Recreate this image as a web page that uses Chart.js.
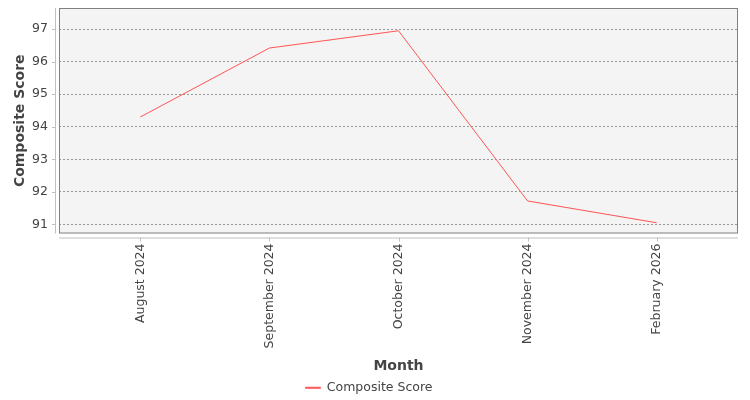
<!DOCTYPE html>
<html>
<head>
<meta charset="utf-8">
<script src="https://cdn.jsdelivr.net/npm/chart.js@4/dist/chart.umd.min.js"></script>
<style>
  html, body { margin: 0; padding: 0; background: #fff; }
  #wrap { width: 750px; height: 400px; }
</style>
</head>
<body>
<div id="wrap"><canvas id="chart"></canvas></div>
<script>
const months = ['August 2024', 'September 2024', 'October 2024', 'November 2024', 'February 2026']
const scores = [94.3, 96.42, 96.95, 91.72, 91.05]
const yTicks = [91, 92, 93, 94, 95, 96, 97]

const textColor = '#444'

// plot background, frame, detached axis lines and tick marks (JFreeChart look)
const plotFrame = {
  id: 'plotFrame',
  beforeDraw(chart) {
    const { ctx, chartArea: a } = chart
    ctx.save()
    ctx.fillStyle = '#fff'
    ctx.fillRect(0, 0, chart.width, chart.height)
    ctx.fillStyle = '#f4f4f4'
    ctx.fillRect(a.left, a.top, a.right - a.left, a.bottom - a.top)
    ctx.restore()
  },
  afterDatasetsDraw(chart) {
    const { ctx, chartArea: a, scales } = chart
    ctx.save()
    ctx.strokeStyle = '#808080'
    ctx.lineWidth = 1
    ctx.strokeRect(a.left + 0.5, a.top + 0.5, a.right - a.left - 1, a.bottom - a.top - 1)

    ctx.strokeStyle = '#c0c0c0'
    ctx.beginPath()
    // y axis line, a little left of the plot
    ctx.moveTo(a.left - 3.5, a.top)
    ctx.lineTo(a.left - 3.5, a.bottom)
    yTicks.forEach((v) => {
      const y = Math.round(scales.y.getPixelForValue(v)) + 0.5
      ctx.moveTo(a.left - 7, y)
      ctx.lineTo(a.left - 3, y)
    })
    // x axis line, a little below the plot
    ctx.moveTo(a.left, a.bottom + 4.5)
    ctx.lineTo(a.right, a.bottom + 4.5)
    months.forEach((m, i) => {
      const x = Math.round(scales.x.getPixelForValue(i)) + 0.5
      ctx.moveTo(x, a.bottom + 4)
      ctx.lineTo(x, a.bottom + 8)
    })
    ctx.stroke()
    ctx.restore()
  },
}

new Chart(document.getElementById('chart'), {
  type: 'line',
  data: {
    datasets: [
      {
        label: 'Composite Score',
        data: scores.map((v, i) => ({ x: i, y: v })),
        borderColor: '#ff5555',
        backgroundColor: '#ff5555',
        borderWidth: 1,
        pointRadius: 0,
        tension: 0,
      },
    ],
  },
  options: {
    responsive: true,
    maintainAspectRatio: false,
    animation: false,
    layout: {
      padding: { top: 8, right: 12, bottom: -4, left: 0 },
    },
    scales: {
      x: {
        type: 'linear',
        min: -0.63,
        max: 4.63,
        afterBuildTicks: (scale) => {
          scale.ticks = months.map((m, i) => ({ value: i }))
        },
        afterFit: (scale) => {
          scale.height = 138
          scale.paddingLeft = 0
          scale.paddingRight = 0
        },
        grid: { display: false },
        border: { display: false },
        ticks: {
          autoSkip: false,
          minRotation: 90,
          maxRotation: 90,
          padding: 2,
          color: textColor,
          font: { family: 'DejaVu Sans', size: 12.5 },
          callback: (v) => months[v],
        },
        title: {
          display: true,
          text: 'Month',
          color: textColor,
          font: { family: 'DejaVu Sans', size: 14, weight: 'bold' },
          padding: { top: 0, bottom: -3 },
        },
      },
      y: {
        min: 90.72,
        max: 97.65,
        afterBuildTicks: (scale) => {
          scale.ticks = yTicks.map((v) => ({ value: v }))
        },
        afterFit: (scale) => {
          scale.width = 59
          scale.paddingTop = 0
          scale.paddingBottom = 0
        },
        grid: {
          color: '#999',
          lineWidth: 1,
          drawTicks: false,
        },
        border: { display: false, dash: [2, 2] },
        ticks: {
          padding: 11,
          color: textColor,
          font: { family: 'DejaVu Sans', size: 12.5 },
        },
        title: {
          display: true,
          text: 'Composite Score',
          color: textColor,
          font: { family: 'DejaVu Sans', size: 14, weight: 'bold' },
          padding: { top: 12, bottom: 0 },
        },
      },
    },
    plugins: {
      legend: {
        position: 'bottom',
        labels: {
          boxWidth: 15,
          boxHeight: 1,
          padding: 10,
          color: textColor,
          font: { family: 'DejaVu Sans', size: 12.5 },
        },
      },
      tooltip: { enabled: false },
    },
  },
  plugins: [plotFrame],
})
</script>
</body>
</html>
